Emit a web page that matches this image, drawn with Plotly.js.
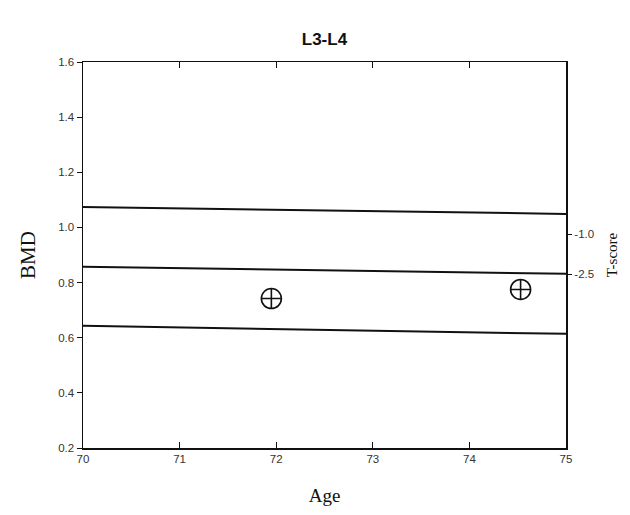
<!DOCTYPE html>
<html>
<head>
<meta charset="utf-8">
<script src="https://cdn.plot.ly/plotly-3.0.1.min.js"></script>
<style>html,body{margin:0;padding:0;background:#fff;}#chart{width:630px;height:515px;}</style>
</head>
<body>
<div id="chart"></div>
<script>
// Reference lines (BMD at age 70 and 75)
var lineAges = [70, 75];
var upperLine = [1.074, 1.049];
var middleLine = [0.857, 0.832];
var lowerLine = [0.643, 0.614];

// Patient measurements
var patientAges = [71.95, 74.53];
var patientBMD = [0.742, 0.775];

// Axis ticks
var xTicks = [70, 71, 72, 73, 74, 75];
var yTicks = [0.2, 0.4, 0.6, 0.8, 1.0, 1.2, 1.4, 1.6];
var yTickText = ["0.2", "0.4", "0.6", "0.8", "1.0", "1.2", "1.4", "1.6"];
var tScoreVals = [0.975, 0.83];
var tScoreText = ["-1.0", "-2.5"];

var lineStyle = {color: "#111", width: 2};
var traces = [
  {x: lineAges, y: upperLine, mode: "lines", line: lineStyle, hoverinfo: "none"},
  {x: lineAges, y: middleLine, mode: "lines", line: lineStyle, hoverinfo: "none"},
  {x: lineAges, y: lowerLine, mode: "lines", line: lineStyle, hoverinfo: "none"},
  {x: patientAges, y: patientBMD, mode: "markers",
   marker: {symbol: "circle-cross-open", size: 20, color: "#111", line: {width: 1.6, color: "#111"}}},
  {x: lineAges, y: upperLine, mode: "lines", yaxis: "y2", line: {width: 0}, opacity: 0, hoverinfo: "none"}
];

var tickFont = {family: "Liberation Sans, Arial, sans-serif", size: 11.5, color: "#333"};
var layout = {
  width: 630, height: 515,
  margin: {l: 83, r: 64, t: 62, b: 67},
  paper_bgcolor: "#fff", plot_bgcolor: "#fff",
  showlegend: false,
  title: {text: "<b>L3-L4</b>", x: 0.515, xanchor: "center", y: 0.925, yanchor: "middle",
          font: {family: "Liberation Sans, Arial, sans-serif", size: 17, color: "#111"}},
  xaxis: {
    range: [70, 75], tickvals: xTicks, ticktext: xTicks.map(String),
    showgrid: false, zeroline: false, showline: true, linecolor: "#111", linewidth: 1.5,
    mirror: "ticks", ticks: "inside", ticklen: 6, tickcolor: "#111", tickfont: tickFont,
    title: {text: "Age", font: {family: "Liberation Serif, Times New Roman, serif", size: 19, color: "#111"}, standoff: 24}
  },
  yaxis: {
    range: [0.2, 1.6], tickvals: yTicks, ticktext: yTickText,
    showgrid: false, zeroline: false, showline: true, linecolor: "#111", linewidth: 1.5,
    mirror: true, ticks: "outside", ticklen: 5, tickcolor: "#111", tickfont: tickFont,
    title: {text: "BMD", font: {family: "Liberation Serif, Times New Roman, serif", size: 21, color: "#111"}, standoff: 17}
  },
  yaxis2: {
    overlaying: "y", side: "right", range: [0.2, 1.6],
    tickvals: tScoreVals, ticktext: tScoreText,
    showgrid: false, zeroline: false, showline: false,
    ticks: "outside", ticklen: 5, tickcolor: "#111", tickfont: tickFont,
    title: {text: "T-score", font: {family: "Liberation Serif, Times New Roman, serif", size: 15, color: "#111"}, standoff: 13}
  }
};

Plotly.newPlot("chart", traces, layout, {displayModeBar: false, staticPlot: true});
</script>
</body>
</html>
